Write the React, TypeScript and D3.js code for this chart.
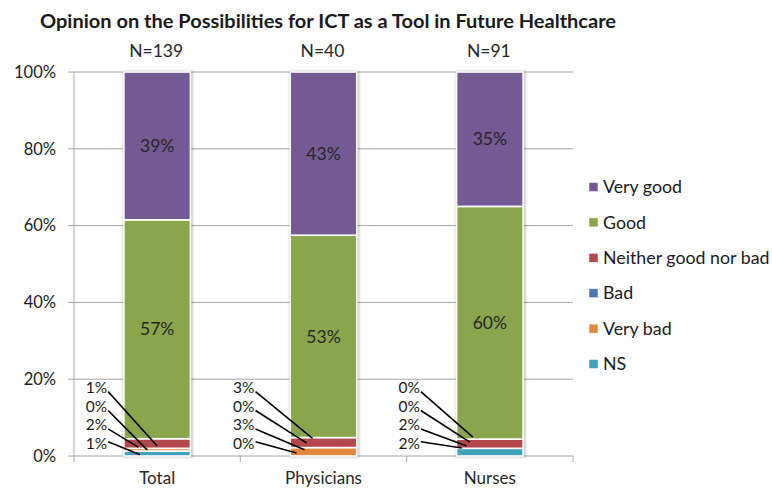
import React from "react";
import * as d3 from "d3";

const categories = ["Total", "Physicians", "Nurses"];
const sampleSizes = ["N=139", "N=40", "N=91"];
const seriesNames = ["NS", "Very bad", "Bad", "Neither good nor bad", "Good", "Very good"];
// values per series (stack order bottom -> top), for Total, Physicians, Nurses
const nsValues = [1.3, 0, 2];
const veryBadValues = [0.7, 2.2, 0];
const badValues = [0, 0, 0];
const neitherValues = [2.5, 2.6, 2.4];
const goodValues = [57, 52.7, 60.6];
const veryGoodValues = [38.5, 42.5, 35];
const bigLabels = [["57%", "39%"], ["53%", "43%"], ["60%", "35%"]]; // Good, Very good
// small outside labels, top -> bottom (as printed)
const smallLabels = [["1%", "0%", "2%", "1%"], ["3%", "0%", "3%", "0%"], ["0%", "0%", "2%", "2%"]];
const yTicks = [0, 20, 40, 60, 80, 100];
const colors = ["#40a2bb", "#e3893e", "#4a79b3", "#b3474a", "#89a64c", "#735a93"];
const legendOrder = ["Very good", "Good", "Neither good nor bad", "Bad", "Very bad", "NS"];

// layout for leader-label callouts
const labelYPct = [17.8, 12.9, 8.1, 3.2];
const labelRightDx = [-50, -69, -70];
const endDx = [[0, -10, -19, -17], [-11, -17, -19, -27], [-17, -20, -23, -28]];
const endYPct = [[2.6, 1.6, 2.3, 0.3], [4.6, 3.4, 1.6, 0.8], [4.9, 3.6, 2.6, 2.1]];

const FONT = "Lato, 'Noto Sans', sans-serif";

export default function App() {
  const W = 772, H = 489;
  const left = 74, right = 573, top = 72, bottom = 456;
  const x = d3.scaleBand<string>().domain(categories).range([left, right]).paddingInner(0.6).paddingOuter(0.3);
  const y = d3.scaleLinear().domain([0, 100]).range([bottom, top]);
  const seriesVals = [nsValues, veryBadValues, badValues, neitherValues, goodValues, veryGoodValues];
  const table = categories.map((c, i) => {
    const row: any = { cat: c };
    seriesNames.forEach((s, j) => (row[s] = seriesVals[j][i]));
    return row;
  });
  const stack = d3.stack().keys(seriesNames)(table);
  const bw = x.bandwidth();
  const boundaries = d3.range(categories.length + 1).map((i) => left + i * x.step());

  return (
    <svg width={W} height={H} style={{ display: "block", position: "absolute", left: 0, top: 0 }} fontFamily={FONT}>
      <defs>
        <filter id="shadow" x="-20%" y="-5%" width="140%" height="110%">
          <feGaussianBlur stdDeviation="1.2" />
        </filter>
      </defs>
      <rect width={W} height={H} fill="#fff" />
      <text x={40} y={28} fontSize={18.5} fontWeight={700} fill="#1a1a1a" textLength={576} lengthAdjust="spacingAndGlyphs">
        Opinion on the Possibilities for ICT as a Tool in Future Healthcare
      </text>
      {/* gridlines */}
      {yTicks.map((t) => (
        <g key={t}>
          <line x1={left - 6} x2={right} y1={y(t)} y2={y(t)} stroke="#a6a6a6" strokeWidth={1} />
          <text x={56} y={y(t)} dy="0.35em" textAnchor="end" fontSize={16.5} fill="#1a1a1a">{t}%</text>
        </g>
      ))}
      <line x1={left} x2={left} y1={top} y2={bottom} stroke="#a6a6a6" />
      {boundaries.map((bx, i) => (
        <line key={i} x1={bx} x2={bx} y1={bottom} y2={bottom + 6} stroke="#a6a6a6" />
      ))}
      {/* bar shadows */}
      {categories.map((c) => (
        <rect key={c} x={(x(c) as number) - 1} y={top - 1} width={bw + 3.5} height={bottom - top + 2.5} fill="#000" opacity={0.22} filter="url(#shadow)" />
      ))}
      {stack.map((layer, j) => (
        <g key={layer.key} fill={colors[j]}>
          {layer.map((d, i) => {
            const h = y(d[0]) - y(d[1]);
            if (h <= 0) return null;
            return (
              <rect key={i} x={x(categories[i])} y={y(d[1])} width={bw} height={h} stroke="#fff" strokeWidth={1.6} />
            );
          })}
        </g>
      ))}
      {/* big in-bar labels */}
      {categories.map((c, i) => {
        const good = stack[4][i];
        const vg = stack[5][i];
        const cx = (x(c) as number) + bw / 2;
        return (
          <g key={c} fill="#262626" textAnchor="middle">
            <text x={cx} y={y((good[0] + good[1]) / 2)} dy="0.35em" fontSize={17.5}>{bigLabels[i][0]}</text>
            <text x={cx} y={y((vg[0] + vg[1]) / 2)} dy="0.35em" fontSize={17.5}>{bigLabels[i][1]}</text>
            <text x={cx - 1} y={51} dy="0.35em" fontSize={17.5}>{sampleSizes[i]}</text>
            <text x={cx} y={478} dy="0.35em" fontSize={17}>{c}</text>
          </g>
        );
      })}
      {/* callout labels */}
      {categories.map((c, i) => {
        const cx = (x(c) as number) + bw / 2;
        const lx = cx + labelRightDx[i];
        return (
          <g key={c}>
            {smallLabels[i].map((lab, k) => {
              const ly = y(labelYPct[k]);
              const sy = k === 3 ? ly - 2 : ly + 4;
              return (
                <g key={k}>
                  <text x={lx} y={ly} dy="0.35em" textAnchor="end" fontSize={15.5} fill="#1a1a1a">{lab}</text>
                  <line x1={lx + 1} y1={sy} x2={cx + endDx[i][k]} y2={y(endYPct[i][k])} stroke="#000" strokeWidth={1.6} />
                </g>
              );
            })}
          </g>
        );
      })}
      {/* legend */}
      {legendOrder.map((name, k) => {
        const j = seriesNames.indexOf(name);
        const ly = 187 + k * 35.4;
        return (
          <g key={name}>
            <rect x={589} y={ly - 4.5} width={9} height={9} fill={colors[j]} stroke="#fff" strokeWidth={0.5} />
            <text x={603} y={ly} dy="0.35em" fontSize={17.8} fill="#1a1a1a">{name}</text>
          </g>
        );
      })}
    </svg>
  );
}
